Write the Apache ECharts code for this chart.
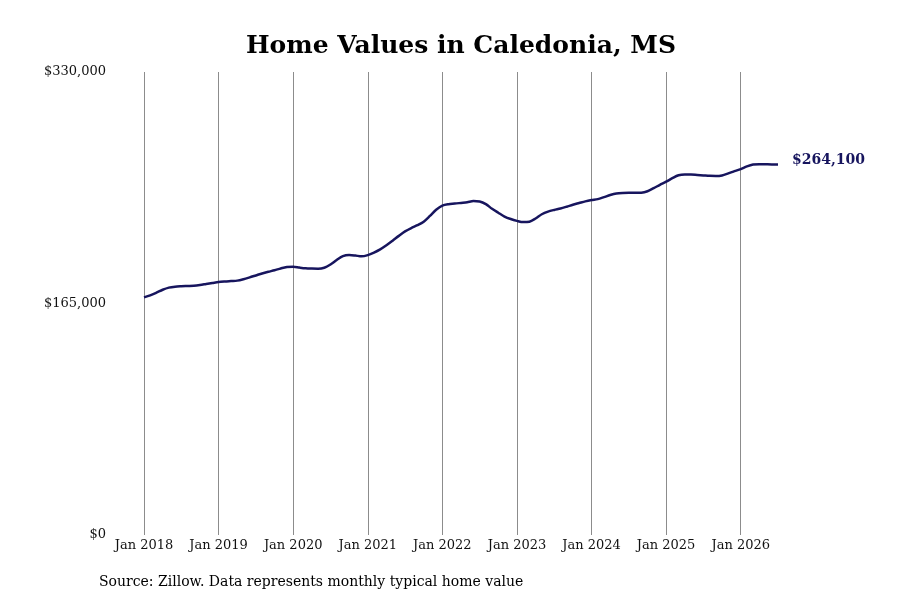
<!DOCTYPE html>
<html>
<head>
<meta charset="utf-8">
<script src="https://cdn.jsdelivr.net/npm/echarts@6/dist/echarts.min.js"></script>
<style>
  html, body { margin: 0; padding: 0; background: #fff; }
  #chart { width: 900px; height: 600px; }
</style>
</head>
<body>
<div id="chart"></div>
<script>
const monthNames = ['Jan', 'Feb', 'Mar', 'Apr', 'May', 'Jun', 'Jul', 'Aug', 'Sep', 'Oct', 'Nov', 'Dec']
const firstYear = 2018

// typical home value, monthly, Jan 2018 .. Jul 2026
const homeValues = [
  169400, 170800, 172700, 174800, 176300, 177000, 177300, 177500, 177700, 178200, 178900, 179600,
  180300, 180700, 181000, 181300, 182300, 183600, 185000, 186400, 187600, 188700, 190000, 191000,
  191200, 190600, 190100, 189900, 189800, 190500, 192800, 196000, 198800, 199600, 199200, 198600,
  199500, 201300, 203600, 206500, 209800, 213200, 216400, 218800, 220800, 223300, 227400, 231800,
  234800, 235800, 236200, 236700, 237200, 238000, 237700, 235800, 232500, 229700, 227000, 225200,
  223900, 223000, 223300, 225600, 228600, 230500, 231700, 232700, 234000, 235400, 236600, 237800,
  238700, 239400, 240800, 242300, 243400, 243800, 243900, 243900, 244000, 245000, 247200, 249600,
  251800, 254300, 256400, 257000, 256900, 256600, 256300, 256000, 255900, 256300, 257700, 259300,
  260800, 262700, 264000, 264300, 264200, 264100, 264100
]

const yTicks = [0, 165000, 330000]

const months = homeValues.map((_, i) => monthNames[i % 12] + ' ' + (firstYear + Math.floor(i / 12)))

const serif = '"DejaVu Serif", "Liberation Serif", serif'
const lineColor = '#17155e'

const chart = echarts.init(document.getElementById('chart'))

chart.setOption({
  animation: false,
  title: {
    text: 'Home Values in Caledonia, MS',
    left: 456,
    top: 29,
    textAlign: 'center',
    textStyle: { fontFamily: serif, fontSize: 25, fontWeight: 'bold', color: '#000' }
  },
  grid: { left: 144, right: 122, top: 72, bottom: 65, containLabel: false },
  xAxis: {
    type: 'category',
    data: months,
    boundaryGap: false,
    axisLine: { show: false },
    axisTick: { show: false },
    axisLabel: {
      interval: (i) => i % 12 === 0,
      fontFamily: serif,
      fontSize: 13,
      color: '#111',
      margin: 4
    },
    splitLine: {
      show: true,
      interval: (i) => i % 12 === 0,
      lineStyle: { color: '#8c8c8c', width: 1 }
    }
  },
  yAxis: {
    type: 'value',
    min: yTicks[0],
    max: yTicks[yTicks.length - 1],
    interval: yTicks[1] - yTicks[0],
    axisLine: { show: false },
    axisTick: { show: false },
    splitLine: { show: false },
    axisLabel: {
      margin: 38,
      fontFamily: serif,
      fontSize: 13,
      color: '#111',
      formatter: (v) => '$' + v.toLocaleString('en-US')
    }
  },
  series: [{
    type: 'line',
    data: homeValues,
    smooth: 0.3,
    showSymbol: false,
    lineStyle: { color: lineColor, width: 2.5 },
    endLabel: {
      show: true,
      distance: 14,
      offset: [0, -4],
      fontFamily: serif,
      fontSize: 14,
      fontWeight: 'bold',
      color: lineColor,
      formatter: (p) => '$' + p.value.toLocaleString('en-US')
    }
  }],
  graphic: [{
    type: 'text',
    left: 99,
    top: 575,
    style: {
      text: 'Source: Zillow. Data represents monthly typical home value',
      fontFamily: serif,
      fontSize: 14,
      fill: '#000'
    }
  }]
})
</script>
</body>
</html>
